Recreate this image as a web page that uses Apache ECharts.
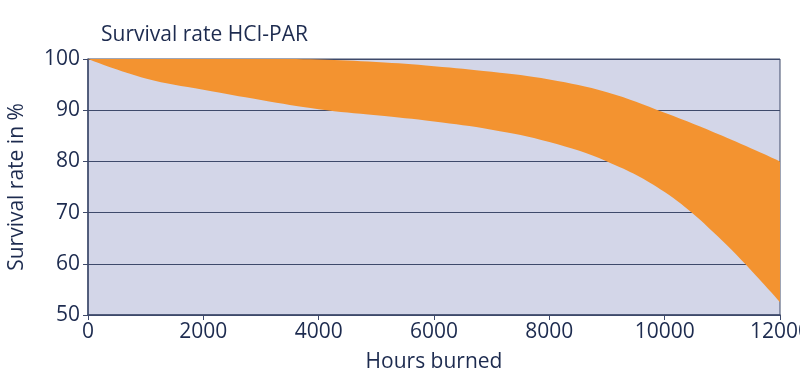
<!DOCTYPE html>
<html>
<head>
<meta charset="utf-8">
<script src="https://cdn.jsdelivr.net/npm/echarts@6/dist/echarts.min.js"></script>
<style>
  html, body { margin: 0; padding: 0; background: #fff; }
  #chart { width: 800px; height: 378px; }
</style>
</head>
<body>
<div id="chart"></div>
<script>
// hours burned (category points, every 1000 h)
const hours = ['0', '1000', '2000', '3000', '4000', '5000', '6000', '7000', '8000', '9000', '10000', '11000', '12000'];
// upper edge of the survival band (%)
const upperRate = [100, 100, 100, 100, 99.9, 99.4, 98.6, 97.5, 96, 93.5, 89.5, 85, 80];
// lower edge of the survival band (%)
const lowerRate = [100, 96.2, 94, 92, 90.2, 89, 87.8, 86.2, 83.8, 80, 74, 64.5, 52.5];
const yTicks = [50, 60, 70, 80, 90, 100];

const textColor = '#1d2b4f';
const lineColor = '#3e4a6b';
const font = 'Open Sans';

const chart = echarts.init(document.getElementById('chart'));

// band thickness stacked on top of the lower edge
const bandRate = upperRate.map((v, i) => +(v - lowerRate[i]).toFixed(2));

chart.setOption({
  animation: false,
  title: {
    text: 'Survival rate HCI-PAR',
    left: 96,
    top: 20,
    textStyle: { color: textColor, fontSize: 21, fontWeight: 'normal', fontFamily: font }
  },
  grid: {
    left: 88, right: 20, top: 59, bottom: 63,
    outerBoundsMode: 'none',
    containLabel: false,
    show: true,
    backgroundColor: '#d3d6e8',
    borderColor: lineColor,
    borderWidth: 1
  },
  xAxis: {
    type: 'category',
    data: hours,
    boundaryGap: false,
    name: 'Hours burned',
    nameLocation: 'middle',
    nameGap: 37,
    nameTextStyle: { color: textColor, fontSize: 21, fontFamily: font },
    axisLine: { lineStyle: { color: lineColor, width: 1.5 } },
    axisTick: { show: true, interval: 1, length: 5, lineStyle: { color: lineColor } },
    axisLabel: { interval: 1, color: textColor, fontSize: 21, fontFamily: font, margin: 7 },
    splitLine: { show: false }
  },
  yAxis: {
    type: 'value',
    min: yTicks[0],
    max: yTicks[yTicks.length - 1],
    interval: 10,
    name: 'Survival rate in %',
    nameLocation: 'middle',
    nameGap: 60,
    nameTextStyle: { color: textColor, fontSize: 21, fontFamily: font },
    axisLine: { show: true, lineStyle: { color: lineColor, width: 1.5 } },
    axisTick: { show: true, length: 5, lineStyle: { color: lineColor } },
    axisLabel: { color: textColor, fontSize: 21, fontFamily: font, margin: 8 },
    splitLine: { show: true, lineStyle: { color: lineColor, width: 1.2 } }
  },
  series: [
    {
      type: 'line',
      stack: 'band',
      data: lowerRate,
      smooth: 0.4,
      symbol: 'none',
      lineStyle: { width: 0 },
      areaStyle: { opacity: 0 }
    },
    {
      type: 'line',
      stack: 'band',
      data: bandRate,
      smooth: 0.4,
      symbol: 'none',
      lineStyle: { width: 0 },
      areaStyle: { color: '#f39330', opacity: 1 }
    }
  ]
});
</script>
</body>
</html>
